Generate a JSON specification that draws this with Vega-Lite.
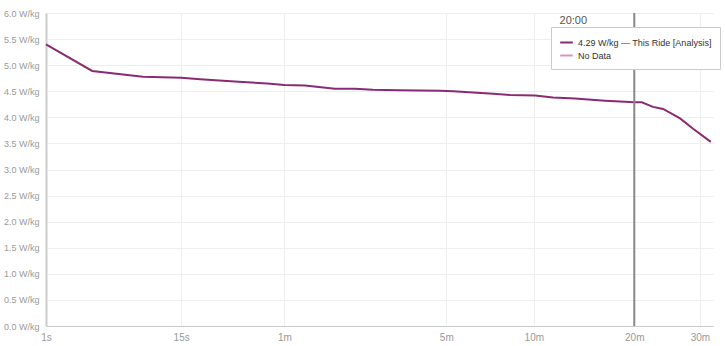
{
  "$schema": "https://vega.github.io/schema/vega-lite/v6.json",
  "width": 667,
  "height": 313,
  "autosize": {"type": "none"},
  "padding": {"left": 46, "top": 13, "right": 12, "bottom": 20},
  "background": "white",
  "config": {"view": {"stroke": null}, "font": "Liberation Sans", "axis": {"labelOverlap": false}},
  "datasets": {
    "curve": [
      {"t": 1, "wkg": 5.40, "series": "This Ride"},
      {"t": 3, "wkg": 4.89, "series": "This Ride"},
      {"t": 8, "wkg": 4.78, "series": "This Ride"},
      {"t": 15, "wkg": 4.76, "series": "This Ride"},
      {"t": 20, "wkg": 4.73, "series": "This Ride"},
      {"t": 34, "wkg": 4.68, "series": "This Ride"},
      {"t": 49, "wkg": 4.65, "series": "This Ride"},
      {"t": 60, "wkg": 4.62, "series": "This Ride"},
      {"t": 76, "wkg": 4.61, "series": "This Ride"},
      {"t": 105, "wkg": 4.55, "series": "This Ride"},
      {"t": 129, "wkg": 4.55, "series": "This Ride"},
      {"t": 154, "wkg": 4.53, "series": "This Ride"},
      {"t": 199, "wkg": 4.52, "series": "This Ride"},
      {"t": 284, "wkg": 4.51, "series": "This Ride"},
      {"t": 318, "wkg": 4.50, "series": "This Ride"},
      {"t": 387, "wkg": 4.47, "series": "This Ride"},
      {"t": 440, "wkg": 4.45, "series": "This Ride"},
      {"t": 502, "wkg": 4.43, "series": "This Ride"},
      {"t": 606, "wkg": 4.42, "series": "This Ride"},
      {"t": 690, "wkg": 4.38, "series": "This Ride"},
      {"t": 807, "wkg": 4.36, "series": "This Ride"},
      {"t": 990, "wkg": 4.32, "series": "This Ride"},
      {"t": 1130, "wkg": 4.30, "series": "This Ride"},
      {"t": 1200, "wkg": 4.29, "series": "This Ride"},
      {"t": 1259, "wkg": 4.29, "series": "This Ride"},
      {"t": 1352, "wkg": 4.20, "series": "This Ride"},
      {"t": 1440, "wkg": 4.16, "series": "This Ride"},
      {"t": 1598, "wkg": 3.98, "series": "This Ride"},
      {"t": 1729, "wkg": 3.78, "series": "This Ride"},
      {"t": 1920, "wkg": 3.53, "series": "This Ride"}
    ],
    "cursor": [{"t": 1200, "label": "20:00"}]
  },
  "layer": [
    {
      "data": {"name": "curve"},
      "mark": {"type": "line", "strokeWidth": 2},
      "encoding": {
        "x": {
          "field": "t",
          "type": "quantitative",
          "scale": {"type": "pow", "exponent": 0.2, "domain": [1, 1945], "nice": false, "zero": false},
          "axis": {
            "title": null,
            "values": [1, 15, 60, 300, 600, 1200, 1800],
            "labelExpr": "datum.value < 60 ? datum.value + 's' : (datum.value / 60) + 'm'",
            "grid": true,
            "gridColor": "#eeeeee",
            "domainColor": "#cccccc",
            "ticks": false,
            "labelColor": "#999999",
            "labelFontSize": 10,
            "labelPadding": 6,
            "labelFlush": false,
            "labelOverlap": false
          }
        },
        "y": {
          "field": "wkg",
          "type": "quantitative",
          "scale": {"domain": [0, 6], "nice": false},
          "axis": {
            "title": null,
            "values": [0, 0.5, 1, 1.5, 2, 2.5, 3, 3.5, 4, 4.5, 5, 5.5, 6],
            "labelExpr": "format(datum.value, '.1f') + ' W/kg'",
            "grid": true,
            "gridColor": "#eeeeee",
            "domainColor": "#cccccc",
            "domainWidth": 2,
            "ticks": false,
            "labelColor": "#999999",
            "labelFontSize": 9,
            "labelPadding": 7,
            "labelOverlap": false,
            "labelFlush": false
          }
        },
        "color": {
          "field": "series",
          "type": "nominal",
          "scale": {"domain": ["This Ride", "No Data"], "range": ["#8b2a74", "#d892c8"]},
          "legend": {
            "title": null,
            "orient": "none",
            "legendX": 505,
            "legendY": 14,
            "direction": "vertical",
            "symbolType": "stroke",
            "symbolStrokeWidth": 2,
            "symbolSize": 160,
            "strokeColor": "#cccccc",
            "fillColor": "white",
            "padding": 8,
            "labelFontSize": 9,
            "labelColor": "#333333",
            "rowPadding": 0,
            "labelExpr": "datum.label == 'This Ride' ? '4.29 W/kg — This Ride [Analysis]' : datum.label"
          }
        }
      }
    },
    {
      "data": {"name": "cursor"},
      "mark": {"type": "rule", "color": "#888888", "strokeWidth": 2},
      "encoding": {
        "x": {"field": "t", "type": "quantitative"}
      }
    },
    {
      "data": {"name": "cursor"},
      "mark": {"type": "text", "align": "center", "baseline": "middle", "dx": -61, "dy": 8, "fontSize": 11, "color": "#555555"},
      "encoding": {
        "x": {"field": "t", "type": "quantitative"},
        "y": {
          "datum": 6,
          "type": "quantitative",
          "axis": {
            "title": null,
            "values": [0, 0.5, 1, 1.5, 2, 2.5, 3, 3.5, 4, 4.5, 5, 5.5, 6],
            "labelExpr": "format(datum.value, '.1f') + ' W/kg'",
            "grid": true,
            "gridColor": "#eeeeee",
            "domainColor": "#cccccc",
            "domainWidth": 2,
            "ticks": false,
            "labelColor": "#999999",
            "labelFontSize": 9,
            "labelPadding": 7,
            "labelOverlap": false,
            "labelFlush": false
          }
        },
        "text": {"field": "label"}
      }
    }
  ]
}
